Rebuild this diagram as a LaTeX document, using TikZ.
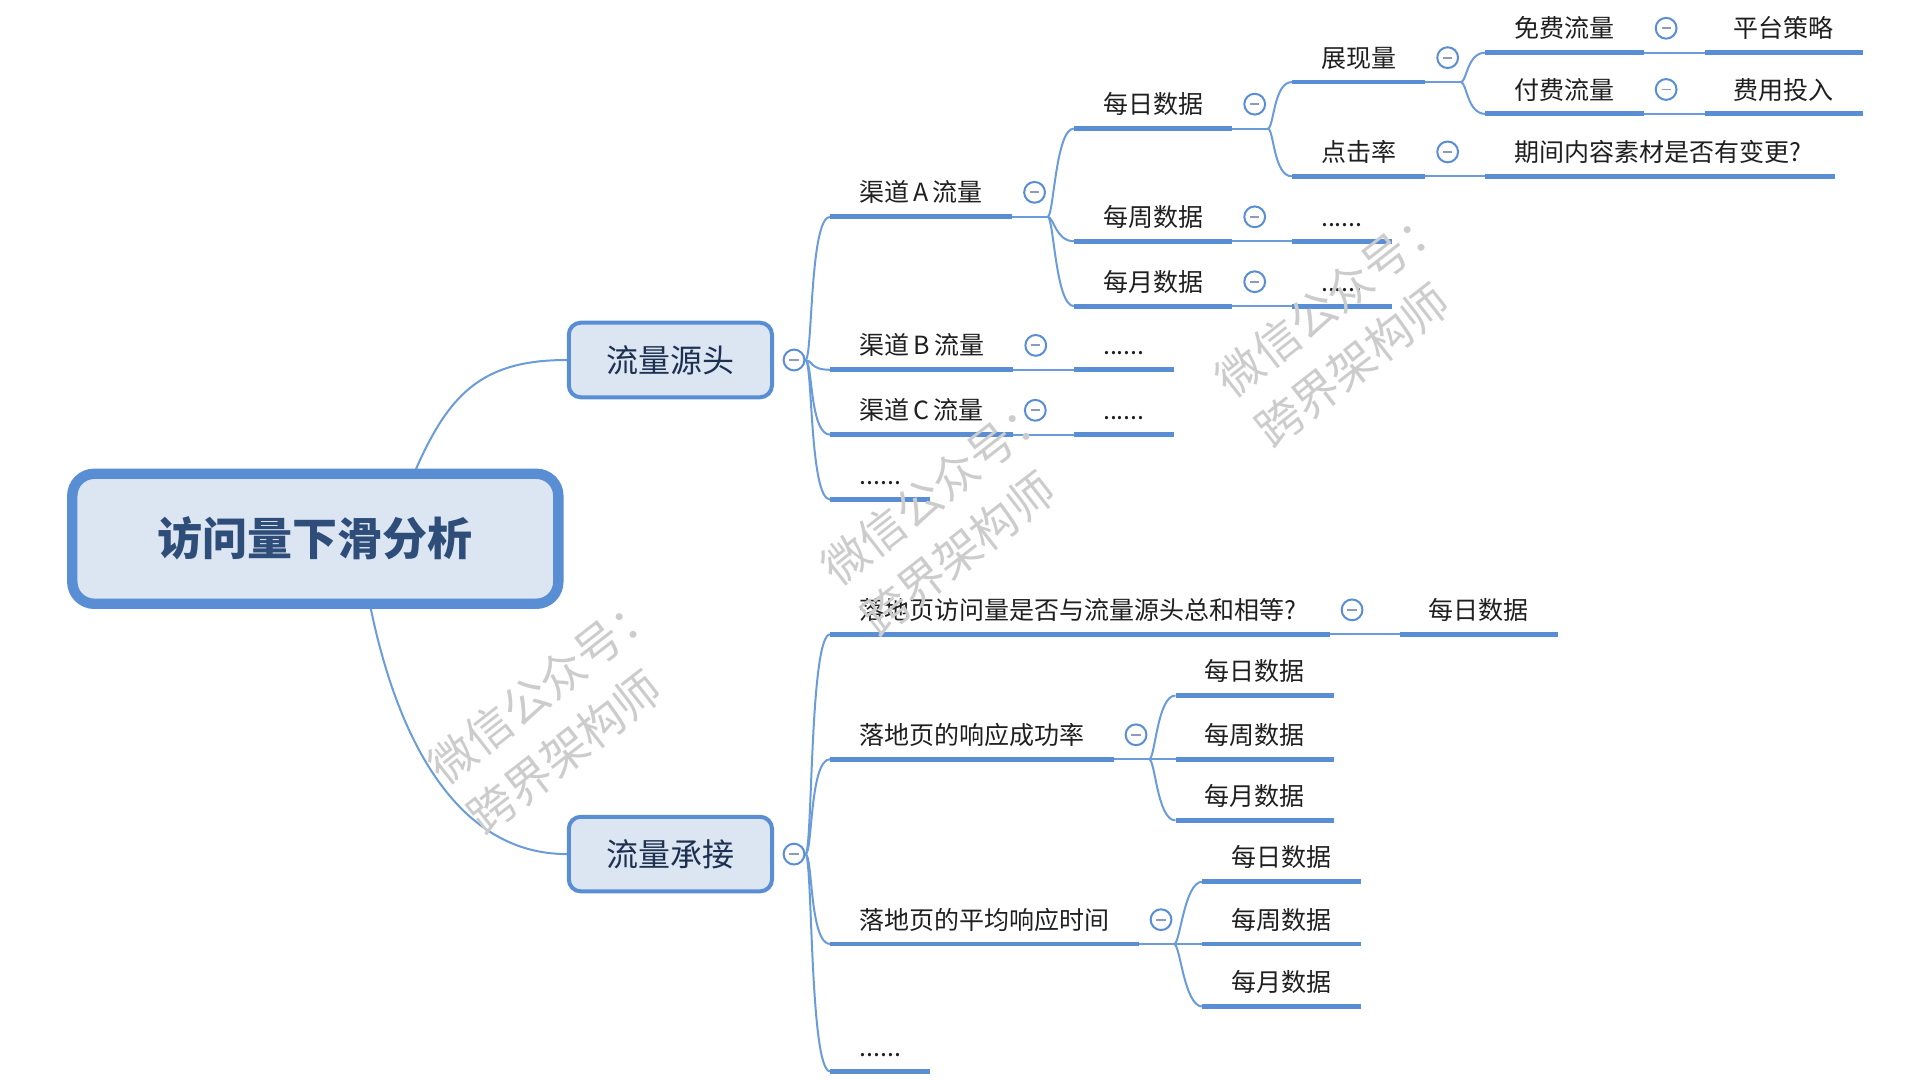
\documentclass[tikz,border=0pt]{standalone}
\usepackage{fontspec}
\setmainfont{Noto Sans CJK SC}
\usepackage{tikz}
\usetikzlibrary{positioning,backgrounds}

\definecolor{mapblue}{HTML}{5A8ED4}
\definecolor{linkblue}{HTML}{6A9BDA}
\definecolor{boxfill}{HTML}{DCE6F3}
\definecolor{rootink}{HTML}{2E4D78}
\definecolor{boxink}{HTML}{1E3050}
\definecolor{foldink}{HTML}{8C9CB8}

\tikzset{
  rootbox/.style={draw=mapblue, line width=5.2pt, fill=boxfill, rounded corners=11pt,
    minimum width=243pt, minimum height=65pt, inner sep=0pt, text=rootink,
    font=\fontsize{22.5}{27}\selectfont\bfseries},
  mainbox/.style={draw=mapblue, line width=2pt, fill=boxfill, rounded corners=6pt,
    minimum width=101.6pt, minimum height=37.3pt, inner sep=0pt, text=boxink,
    font=\fontsize{16}{19}\selectfont},
  topic/.style={anchor=south west, inner xsep=14.4pt, inner ysep=0pt,
    text height=16.8pt, text depth=7.2pt, text=black!88,
    font=\fontsize{12.5}{15}\selectfont},
  fold/.style={circle, draw=mapblue, line width=1pt, fill=white, minimum size=10.4pt,
    inner sep=0pt, path picture={\draw[foldink, line width=0.9pt]
      (path picture bounding box.center) +(-2.3pt,0) -- +(2.3pt,0);}},
  uline/.style={draw=mapblue, line width=2.4pt},
  link/.style={draw=linkblue, line width=1pt},
  wmark/.style={rotate=38, align=left, text=black!20, font=\fontsize{23}{32}\selectfont},
}

\begin{document}
\begin{tikzpicture}[x=0.6122pt, y=-0.6122pt]
\useasboundingbox (0,0) rectangle (1568,882);

\node[rootbox] (root) at (257.5,440) {访问量下滑分析};
\node[mainbox] (src) at (547.5,294) {流量源头};
\node[mainbox] (sink) at (547.5,697.5) {流量承接};
\node[fold, right=4.3pt of src] (src-f) {};
\node[fold, right=4.3pt of sink] (sink-f) {};
\coordinate (root-up) at (338,387);
\coordinate (root-down) at (302,493);

% 流量源头
\node[topic] (chA) at (678,177) {渠道\,A\,流量};
\node[topic] (chB) at (678,302) {渠道\,B\,流量};
\node[topic] (chC) at (678,355) {渠道\,C\,流量};
\node[topic] (srcmore) at (678,408) {......};
\node[topic] (chBmore) at (877,302) {......};
\node[topic] (chCmore) at (877,355) {......};
\node[topic] (day) at (877,105) {每日数据};
\node[topic] (week) at (877,197) {每周数据};
\node[topic] (month) at (877,250) {每月数据};
\node[topic] (weekmore) at (1055,197) {......};
\node[topic] (monthmore) at (1055,250) {......};
\node[topic] (show) at (1055,67) {展现量};
\node[topic] (click) at (1055,144) {点击率};
\node[topic] (clickkid) at (1213,144) {期间内容素材是否有变更?\,};
\node[topic] (free) at (1213,43) {免费流量};
\node[topic] (paid) at (1213,93) {付费流量};
\node[topic] (freekid) at (1392,43) {平台策略};
\node[topic] (paidkid) at (1392,93) {费用投入};

% 流量承接
\node[topic] (visit) at (678,518) {落地页访问量是否与流量源头总和相等?\,};
\node[topic] (visitkid) at (1143,518) {每日数据};
\node[topic] (rate) at (678,620) {落地页的响应成功率};
\node[topic] (rate1) at (960,568) {每日数据};
\node[topic] (rate2) at (960,620) {每周数据};
\node[topic] (rate3) at (960,670) {每月数据};
\node[topic] (time) at (678,771) {落地页的平均响应时间};
\node[topic] (time1) at (982,720) {每日数据};
\node[topic] (time2) at (982,771) {每周数据};
\node[topic] (time3) at (982,822) {每月数据};
\node[topic] (sinkmore) at (678,875) {......};

\foreach \n in {chA,chB,chC,srcmore,chBmore,chCmore,day,week,month,weekmore,monthmore,
  show,click,clickkid,free,paid,freekid,paidkid,visit,visitkid,rate,rate1,rate2,rate3,
  time,time1,time2,time3,sinkmore}
  \draw[uline] (\n.south west) -- (\n.south east);

\foreach \n in {chA,chB,chC,day,week,month,show,click,free,paid,visit,rate,time}
  \node[fold, right=5.5pt of \n] (\n-f) {};

\begin{scope}[on background layer]
\draw[link] (root-up) .. controls +(28,-65) and +(-70,0) .. (src.west);
\draw[link] (root-down) .. controls +(22,110) and +(-90,0) .. (sink.west);
\foreach \n in {chA,chB,chC,srcmore}
  \draw[link] (src-f.east) .. controls +(6,0) and +(-17,0) .. (\n.south west);
\foreach \n in {visit,rate,time,sinkmore}
  \draw[link] (sink-f.east) .. controls +(6,0) and +(-17,0) .. (\n.south west);

\draw[link] (chA.south east) -- ++(29,0) coordinate (chA-j);
\foreach \n in {day,week,month}
  \draw[link] (chA-j) .. controls +(5,0) and +(-15,0) .. (\n.south west);
\draw[link] (day.south east) -- ++(29,0) coordinate (day-j);
\foreach \n in {show,click}
  \draw[link] (day-j) .. controls +(5,0) and +(-15,0) .. (\n.south west);
\draw[link] (show.south east) -- ++(29,0) coordinate (show-j);
\foreach \n in {free,paid}
  \draw[link] (show-j) .. controls +(5,0) and +(-15,0) .. (\n.south west);
\draw[link] (rate.south east) -- ++(29,0) coordinate (rate-j);
\foreach \n in {rate1,rate2,rate3}
  \draw[link] (rate-j) .. controls +(5,0) and +(-15,0) .. (\n.south west);
\draw[link] (time.south east) -- ++(29,0) coordinate (time-j);
\foreach \n in {time1,time2,time3}
  \draw[link] (time-j) .. controls +(5,0) and +(-15,0) .. (\n.south west);

\draw[link] (chB.south east) -- (chBmore.south west);
\draw[link] (chC.south east) -- (chCmore.south west);
\draw[link] (week.south east) -- (weekmore.south west);
\draw[link] (month.south east) -- (monthmore.south west);
\draw[link] (click.south east) -- (clickkid.south west);
\draw[link] (free.south east) -- (freekid.south west);
\draw[link] (paid.south east) -- (paidkid.south west);
\draw[link] (visit.south east) -- (visitkid.south west);
\end{scope}

% watermark
\node[wmark] (wm1) at (1103,266) {微信公众号：\\跨界架构师};
\node[wmark] (wm2) at (781,420) {微信公众号：\\跨界架构师};
\node[wmark] (wm3) at (460,582) {微信公众号：\\跨界架构师};
\end{tikzpicture}
\end{document}
